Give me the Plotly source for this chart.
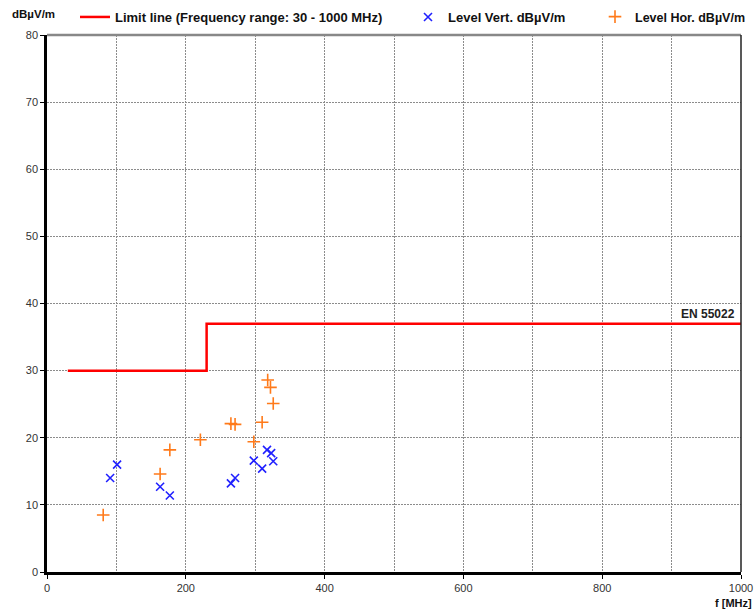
import plotly.graph_objects as go

limit_f = [30, 230, 230, 1000]
limit_db = [30, 30, 37, 37]

vert_f = [91, 101, 163, 177, 265, 271, 298, 310, 317, 323, 326]
vert_db = [14.0, 16.0, 12.7, 11.4, 13.2, 14.0, 16.6, 15.4, 18.2, 17.7, 16.5]

hor_f = [81, 163, 177, 221, 265, 271, 298, 310, 318, 322, 326]
hor_db = [8.5, 14.6, 18.2, 19.7, 22.1, 22.0, 19.4, 22.3, 28.6, 27.5, 25.1]

x_ticks = [0, 200, 400, 600, 800, 1000]
y_ticks = [0, 10, 20, 30, 40, 50, 60, 70, 80]

FONT = "Liberation Sans, Arial, sans-serif"
PW, PH = 694, 537

fig = go.Figure()
fig.add_trace(go.Scatter(
    x=limit_f, y=limit_db, mode="lines", name="<b>Limit line (Frequency range: 30 - 1000 MHz)</b>",
    line=dict(color="#ff0000", width=2.5), legend="legend"))
fig.add_trace(go.Scatter(
    x=vert_f, y=vert_db, mode="markers", name="<b>Level Vert. dBµV/m</b>",
    marker=dict(symbol="x-thin", size=8, line=dict(color="#2020ff", width=1.6)), legend="legend2"))
fig.add_trace(go.Scatter(
    x=hor_f, y=hor_db, mode="markers", name="<b>Level Hor. dBµV/m</b>",
    marker=dict(symbol="cross-thin", size=9, line=dict(color="#ff7a1a", width=1.6)), legend="legend3"))

LY = 1 + 18 / PH


def leg(x, size):
    return dict(x=x, y=LY, orientation="h", yanchor="middle", xanchor="left",
                font=dict(family=FONT, size=size, color="#111"), bgcolor="rgba(0,0,0,0)",
                itemwidth=30)


grid = dict(showgrid=True, gridcolor="#8c8c8c", griddash="2px,1px", gridwidth=1.3)

fig.update_layout(
    width=756, height=609,
    margin=dict(l=47, r=15, t=35, b=37, autoexpand=False),
    paper_bgcolor="white", plot_bgcolor="white",
    font=dict(family=FONT, size=11, color="#333"),
    showlegend=True,
    legend=leg((75 - 47) / PW, 13),
    legend2=leg((408 - 47) / PW, 13),
    legend3=leg((595 - 47) / PW, 12.5),
    xaxis=dict(range=[0, 1000], tickvals=x_ticks, ticks="outside", ticklen=4, tickcolor="black",
               showline=True, linecolor="black", linewidth=2.5, zeroline=False,
               tickmode="array", **grid,
               minor=dict(tickvals=[100, 300, 500, 700, 900], **grid),
               tickfont=dict(size=11, color="#333")),
    yaxis=dict(range=[0, 80], tickvals=y_ticks, ticks="outside", ticklen=4, tickcolor="black",
               showline=True, linecolor="black", linewidth=2.5, zeroline=False, **grid,
               tickfont=dict(size=11, color="#333")),
    shapes=[
        dict(type="line", xref="paper", yref="paper", x0=0, x1=1, y0=1, y1=1,
             line=dict(color="#888", width=2.5)),
        dict(type="line", xref="paper", yref="paper", x0=1, x1=1, y0=0, y1=1,
             line=dict(color="#222", width=1.5)),
    ],
    annotations=[
        dict(text="<b>dBµV/m</b>", xref="paper", yref="paper", x=-37 / PW, y=1 + 21 / PH,
             xanchor="left", yanchor="middle", showarrow=False,
             font=dict(family=FONT, size=11.5, color="#111")),
        dict(text="<b>f [MHz]</b>", xref="paper", yref="paper", x=(754 - 47) / PW, y=-31 / PH,
             xanchor="right", yanchor="middle", showarrow=False,
             font=dict(family=FONT, size=11, color="#111")),
        dict(text="<b>EN 55022</b>", xref="x", yref="y", x=994, y=37,
             xanchor="right", yanchor="bottom", yshift=1, showarrow=False,
             font=dict(family=FONT, size=12, color="#222")),
    ],
)

fig.write_html("out.html")
